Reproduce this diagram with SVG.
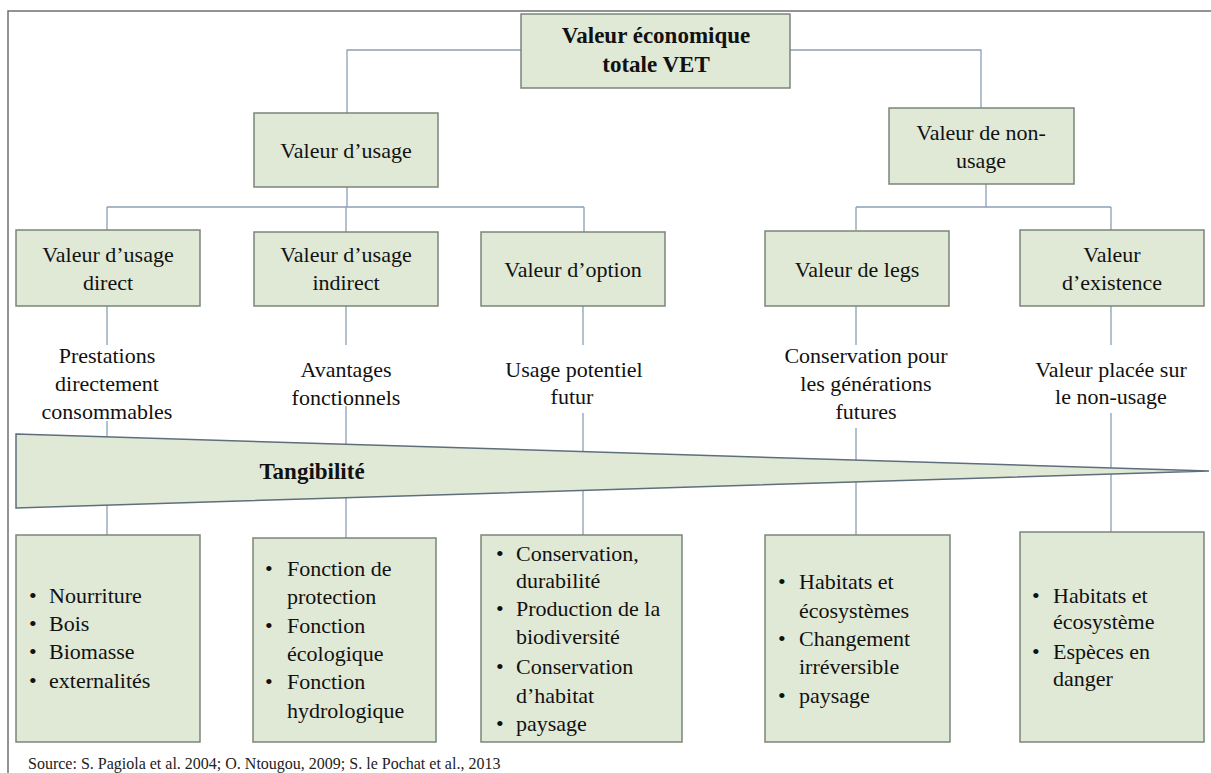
<svg xmlns="http://www.w3.org/2000/svg" width="1211" height="773" viewBox="0 0 1211 773">
<style>
.box{fill:#e0e9d6;stroke:#7b8579;stroke-width:1.5}
.t{font-family:"Liberation Serif","Times New Roman",serif;font-size:22px;fill:#111;text-anchor:middle}
.b{font-weight:bold;font-size:23px}
.l{font-family:"Liberation Serif","Times New Roman",serif;font-size:22px;fill:#111}
.con{fill:none;stroke:#8aa0b4;stroke-width:1.3}
.src{font-family:"Liberation Serif","Times New Roman",serif;font-size:16px;fill:#222}
</style>
<rect width="1211" height="773" fill="#ffffff"/>
<rect x="8" y="11" width="1220" height="800" fill="none" stroke="#707070" stroke-width="1.5"/>
<g id="connectors">
<path class="con" d="M521,50 H347 V113"/>
<path class="con" d="M790,50 H981 V108"/>
<path class="con" d="M347,187 V207 M107,207 H584 M107,207 V230 M346,207 V232 M584,207 V232"/>
<path class="con" d="M986,184 V207 M856,207 H1111 M856,207 V230 M1111,207 V230"/>
<path class="con" d="M107,306 V345 M346,306 V345 M583,306 V345 M856,306 V345 M1111,306 V345"/>
<path class="con" d="M107,421 V535 M346,406 V538 M583,413 V535 M856,428 V535 M1111,413 V532"/>
</g>
<g id="wedge">
<polygon points="16,434 1209,471 16,508" fill="#e0e9d6" stroke="#5f6e7c" stroke-width="1.5"/>
<text class="t b" x="312" y="479" font-size="22.5">Tangibilité</text>
</g>
<g id="vet">
<rect class="box" x="521" y="14" width="269" height="74"/>
<text class="t b" x="656" y="43">Valeur économique</text>
<text class="t b" x="656" y="72">totale VET</text>
</g>
<g id="usage">
<rect class="box" x="254" y="113" width="184" height="74"/>
<text class="t" x="346" y="158">Valeur d’usage</text>
</g>
<g id="non-usage">
<rect class="box" x="889" y="108" width="185" height="76"/>
<text class="t" x="981" y="140">Valeur de non-</text>
<text class="t" x="981" y="168">usage</text>
</g>
<g id="direct">
<rect class="box" x="16" y="230" width="184" height="76"/>
<text class="t" x="108" y="262">Valeur d’usage</text>
<text class="t" x="108" y="290">direct</text>
</g>
<g id="indirect">
<rect class="box" x="254" y="232" width="184" height="74"/>
<text class="t" x="346" y="262">Valeur d’usage</text>
<text class="t" x="346" y="290">indirect</text>
</g>
<g id="option">
<rect class="box" x="481" y="232" width="184" height="74"/>
<text class="t" x="573" y="277">Valeur d’option</text>
</g>
<g id="legs">
<rect class="box" x="765" y="231" width="184" height="75"/>
<text class="t" x="857" y="277">Valeur de legs</text>
</g>
<g id="existence">
<rect class="box" x="1020" y="230" width="184" height="76"/>
<text class="t" x="1112" y="262">Valeur</text>
<text class="t" x="1112" y="290">d’existence</text>
</g>
<g id="label-direct">
<text class="t" x="107" y="363">Prestations</text>
<text class="t" x="107" y="391">directement</text>
<text class="t" x="107" y="419">consommables</text>
</g>
<g id="label-indirect">
<text class="t" x="346" y="377">Avantages</text>
<text class="t" x="346" y="405">fonctionnels</text>
</g>
<g id="label-option">
<text class="t" x="574" y="377">Usage potentiel</text>
<text class="t" x="572" y="404">futur</text>
</g>
<g id="label-legs">
<text class="t" x="866" y="363">Conservation pour</text>
<text class="t" x="866" y="391">les générations</text>
<text class="t" x="866" y="419">futures</text>
</g>
<g id="label-existence">
<text class="t" x="1111" y="377">Valeur placée sur</text>
<text class="t" x="1111" y="404">le non-usage</text>
</g>
<g id="list-direct">
<rect class="box" x="16" y="535" width="184" height="207"/>
<text class="l" x="29" y="603">•</text><text class="l" x="49" y="603">Nourriture</text>
<text class="l" x="29" y="631">•</text><text class="l" x="49" y="631">Bois</text>
<text class="l" x="29" y="659">•</text><text class="l" x="49" y="659">Biomasse</text>
<text class="l" x="29" y="688">•</text><text class="l" x="49" y="688">externalités</text>
</g>
<g id="list-indirect">
<rect class="box" x="253" y="538" width="183" height="204"/>
<text class="l" x="265" y="576">•</text><text class="l" x="287" y="576">Fonction de</text>
<text class="l" x="287" y="604">protection</text>
<text class="l" x="265" y="633">•</text><text class="l" x="287" y="633">Fonction</text>
<text class="l" x="287" y="661">écologique</text>
<text class="l" x="265" y="689">•</text><text class="l" x="287" y="689">Fonction</text>
<text class="l" x="287" y="718">hydrologique</text>
</g>
<g id="list-option">
<rect class="box" x="481" y="535" width="201" height="207"/>
<text class="l" x="496" y="561">•</text><text class="l" x="516" y="561">Conservation,</text>
<text class="l" x="516" y="588">durabilité</text>
<text class="l" x="496" y="616">•</text><text class="l" x="516" y="616">Production de la</text>
<text class="l" x="516" y="644">biodiversité</text>
<text class="l" x="496" y="674">•</text><text class="l" x="516" y="674">Conservation</text>
<text class="l" x="516" y="703">d’habitat</text>
<text class="l" x="496" y="731">•</text><text class="l" x="516" y="731">paysage</text>
</g>
<g id="list-legs">
<rect class="box" x="765" y="535" width="185" height="207"/>
<text class="l" x="778" y="589">•</text><text class="l" x="799" y="589">Habitats et</text>
<text class="l" x="799" y="618">écosystèmes</text>
<text class="l" x="778" y="646">•</text><text class="l" x="799" y="646">Changement</text>
<text class="l" x="799" y="674">irréversible</text>
<text class="l" x="778" y="703">•</text><text class="l" x="799" y="703">paysage</text>
</g>
<g id="list-existence">
<rect class="box" x="1020" y="532" width="184" height="210"/>
<text class="l" x="1032" y="603">•</text><text class="l" x="1053" y="603">Habitats et</text>
<text class="l" x="1053" y="629">écosystème</text>
<text class="l" x="1032" y="659">•</text><text class="l" x="1053" y="659">Espèces en</text>
<text class="l" x="1053" y="686">danger</text>
</g>
<text class="src" x="28" y="769">Source: S. Pagiola et al. 2004; O. Ntougou, 2009; S. le Pochat et al., 2013</text>
</svg>
